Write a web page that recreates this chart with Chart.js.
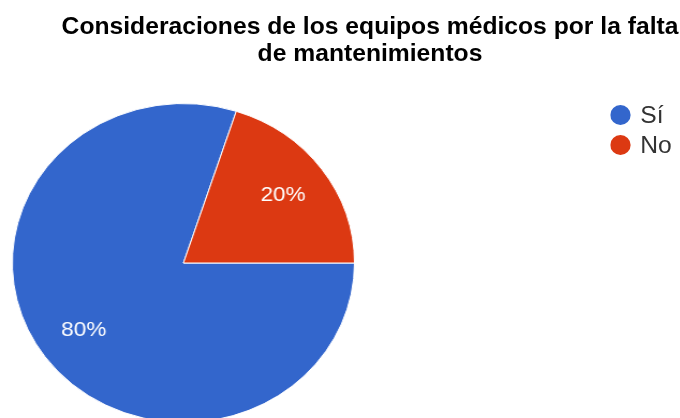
<!DOCTYPE html>
<html>
<head>
<meta charset="utf-8">
<script src="https://cdn.jsdelivr.net/npm/chart.js@4.4.1/dist/chart.umd.min.js"></script>
<style>
  html, body { margin: 0; padding: 0; width: 680px; height: 418px; overflow: hidden; background: #fff; }
  /* the reference is stretched a little sideways, so the whole drawing is too */
  #wrap { position: absolute; left: 0; top: 0; width: 634px; height: 440px;
          transform: scaleX(1.0725); transform-origin: 0 0; }
  #title { position: absolute; left: 0; top: 13px; width: 690px; text-align: center;
           font: bold 23px "Liberation Sans", Arial, sans-serif; line-height: 27px; color: #000; }
  #c { position: absolute; left: 0; top: 0; }
  #legend { position: absolute; left: 569px; top: 100px;
            font: 23px "Liberation Sans", Arial, sans-serif; color: #333; }
  .lg-item { display: flex; align-items: center; height: 30px; }
  .lg-dot { width: 19px; height: 20px; border-radius: 50%; margin-right: 9px; }
</style>
</head>
<body>
<div id="wrap">
  <div id="title">Consideraciones de los equipos médicos por la falta<br>de mantenimientos</div>
  <canvas id="c" width="634" height="440" style="width:634px;height:440px"></canvas>
  <div id="legend"></div>
</div>
<script>
  /* ─── Data ─── */
  const labels = ["Sí", "No"];
  const values = [80, 20];
  const colors = ["#3366cc", "#dc3912"];

  /* ─── Percent labels inside slices ─── */
  const sliceLabels = {
    id: "sliceLabels",
    afterDatasetsDraw(chart) {
      const ctx = chart.ctx;
      const meta = chart.getDatasetMeta(0);
      const total = values.reduce((a, b) => a + b, 0);
      ctx.save();
      ctx.fillStyle = "#fff";
      ctx.font = '21px "Liberation Sans", Arial, sans-serif';
      ctx.textAlign = "center";
      ctx.textBaseline = "middle";
      meta.data.forEach((arc, i) => {
        const p = arc.getProps(["x", "y", "startAngle", "endAngle", "outerRadius"], true);
        const mid = (p.startAngle + p.endAngle) / 2;
        const r = p.outerRadius * 0.72;
        const pct = Math.round(values[i] / total * 100) + "%";
        ctx.fillText(pct, p.x + Math.cos(mid) * r, p.y + Math.sin(mid) * r);
      });
      ctx.restore();
    },
  };

  const chart = new Chart(document.getElementById("c"), {
    type: "pie",
    data: {
      labels,
      datasets: [{
        data: values,
        backgroundColor: colors,
        borderColor: "#fff",
        borderWidth: 1,
      }],
    },
    options: {
      responsive: false,
      animation: false,
      rotation: 90,
      layout: { padding: { left: 11, right: 303, top: 103, bottom: 17 } },
      plugins: {
        legend: { display: false },
        tooltip: { enabled: false },
      },
      events: [],
    },
    plugins: [sliceLabels],
  });

  /* ─── Legend (html) ─── */
  document.getElementById("legend").innerHTML = labels.map((l, i) =>
    `<div class="lg-item"><span class="lg-dot" style="background:${colors[i]}"></span><span>${l}</span></div>`
  ).join("");
</script>
</body>
</html>
